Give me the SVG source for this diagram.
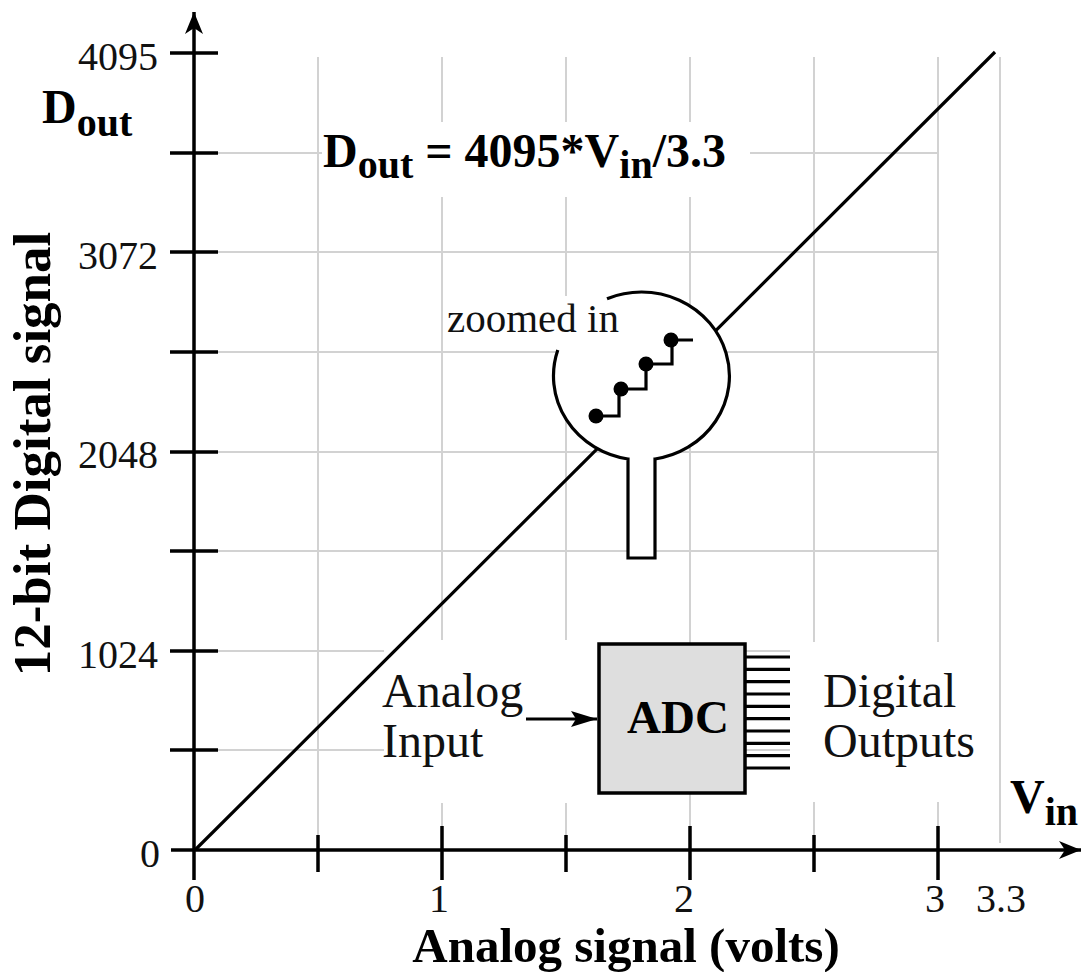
<svg xmlns="http://www.w3.org/2000/svg" width="1083" height="972" viewBox="0 0 1083 972">
<style>
.grid{stroke:#d2d2d2;stroke-width:2;fill:none}
.ax{stroke:#000;stroke-width:3.5;fill:none}
.ln{stroke:#000;stroke-width:3.2;fill:none}
.mask{fill:#fff;stroke:none}
.num{font-family:"Liberation Serif","Times New Roman",serif;font-size:40px;fill:#111}
.reg{font-family:"Liberation Serif","Times New Roman",serif;font-size:48px;fill:#111}
.bold{font-family:"Liberation Serif","Times New Roman",serif;font-weight:bold;fill:#000}
</style>
<defs>
<marker id="arr" markerWidth="24" markerHeight="20" refX="22" refY="10" orient="auto" markerUnits="userSpaceOnUse">
<path d="M0,1 L22,10 L0,19 L6,10 Z" fill="#000"/>
</marker>
<marker id="arrs" markerWidth="28" markerHeight="20" refX="26" refY="10" orient="auto" markerUnits="userSpaceOnUse">
<path d="M0,2 L26,10 L0,18 L5,10 Z" fill="#000"/>
</marker>
</defs>
<rect width="1083" height="972" fill="#fff"/>
<g id="grid">
<path class="grid" d="M318,57V835 M442,57V826 M566,57V835 M690,57V826 M814,57V835 M938,57V826 M1000,57V843"/>
<path class="grid" d="M218,153H938 M218,252H938 M218,352H938 M218,452H938 M218,551H938 M218,651H938 M218,750H938"/>
</g>
<g id="masks">
<rect class="mask" x="322" y="122" width="428" height="75"/>
<rect class="mask" x="445" y="296" width="163" height="52"/>
<rect class="mask" x="384" y="640" width="214" height="163"/>
<rect class="mask" x="790" y="642" width="200" height="160"/>
</g>
<g id="axes">
<line class="ax" x1="194" y1="880" x2="194" y2="12" marker-end="url(#arr)"/>
<line class="ax" x1="171" y1="850" x2="1081" y2="850" marker-end="url(#arr)"/>
<path class="ax" d="M170,53H218 M170,153H218 M170,252H218 M170,352H218 M170,452H218 M170,551H218 M170,651H218 M170,750H218"/>
<path class="ax" d="M318,835V872 M442,826V880 M566,835V872 M690,826V880 M814,835V872 M938,826V880"/>
</g>
<g id="y-labels" class="num" text-anchor="end">
<text x="158" y="70">4095</text>
<text x="158" y="269">3072</text>
<text x="158" y="468">2048</text>
<text x="158" y="668">1024</text>
<text x="160" y="867">0</text>
</g>
<g id="x-labels" class="num" text-anchor="middle">
<text x="195" y="912">0</text>
<text x="439" y="912">1</text>
<text x="684" y="912">2</text>
<text x="935" y="912">3</text>
<text x="1001" y="912">3.3</text>
</g>
<g id="transfer-line">
<line class="ln" x1="195" y1="850" x2="995" y2="52"/>
</g>
<g id="zoom-bubble">
<ellipse cx="641.5" cy="376" rx="88" ry="84" fill="#fff"/>
<rect x="628" y="440" width="27" height="118" fill="#fff"/>
<path class="ln" d="M607,298.7 A88,84 0 1 1 655,459 V558 H628 V459 A88,84 0 0 1 557.8,350"/>
<path class="ln" d="M596,416 H619 V389 H646 V364 H672 V340 H693"/>
<circle cx="596" cy="416" r="7.5" fill="#000"/>
<circle cx="621" cy="389" r="7.5" fill="#000"/>
<circle cx="646" cy="364" r="7.5" fill="#000"/>
<circle cx="671" cy="340" r="7.5" fill="#000"/>
<text class="reg" x="447" y="332" style="font-size:41px">zoomed in</text>
</g>
<g id="adc">
<rect x="599" y="644" width="146" height="149" fill="#dedede" stroke="#000" stroke-width="3.5"/>
<text class="bold" x="678" y="733" text-anchor="middle" font-size="47">ADC</text>
<path class="ln" d="M746,657H790 M746,669.3H790 M746,681.7H790 M746,694H790 M746,706.3H790 M746,718.7H790 M746,731H790 M746,743.3H790 M746,755.7H790 M746,768H790"/>
</g>
<g id="analog-input">
<text class="reg" x="382" y="707">Analog</text>
<text class="reg" x="382" y="757">Input</text>
</g>
<g id="digital-outputs">
<text class="reg" x="823" y="707">Digital</text>
<text class="reg" x="823" y="757">Outputs</text>
</g>
<g id="connectors">
<line class="ln" x1="526" y1="719" x2="597" y2="719" marker-end="url(#arrs)"/>
</g>
<g id="titles">
<text class="bold" x="323" y="167" font-size="48">D<tspan font-size="40" dy="11">out</tspan><tspan dy="-11"> = 4095*V</tspan><tspan font-size="40" dy="11">in</tspan><tspan dy="-11">/3.3</tspan></text>
<text class="bold" x="42" y="123" font-size="48">D<tspan font-size="40" dy="13">out</tspan></text>
<text class="bold" x="1010" y="813" font-size="48">V<tspan font-size="40" dy="12">in</tspan></text>
<text class="bold" x="626" y="962" font-size="49" text-anchor="middle">Analog signal (volts)</text>
<text class="bold" transform="translate(50,454) rotate(-90)" font-size="53" text-anchor="middle">12-bit Digital signal</text>
</g>
</svg>
